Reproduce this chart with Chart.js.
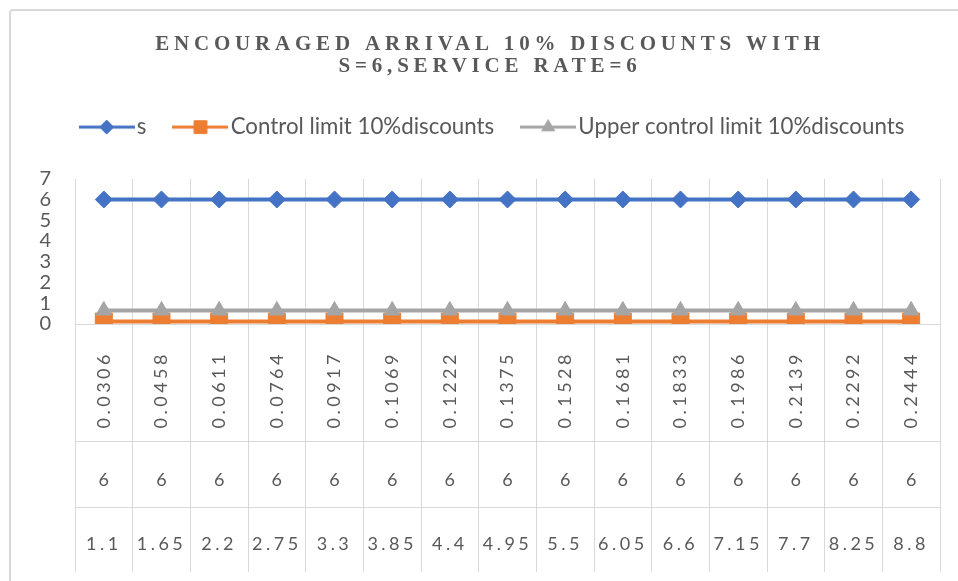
<!DOCTYPE html>
<html>
<head>
<meta charset="utf-8">
<script src="https://cdn.jsdelivr.net/npm/chart.js"></script>
<style>
	html, body { margin: 0; padding: 0; background: #fff; overflow: hidden; }
	#wrap { width: 980px; height: 581px; }
</style>
</head>
<body>
<div id="wrap"><canvas id="chart" width="980" height="581"></canvas></div>
<script>
// category levels, innermost first
const utilisation = ["0.0306", "0.0458", "0.0611", "0.0764", "0.0917", "0.1069", "0.1222", "0.1375", "0.1528", "0.1681", "0.1833", "0.1986", "0.2139", "0.2292", "0.2444"];
const servers = ["6", "6", "6", "6", "6", "6", "6", "6", "6", "6", "6", "6", "6", "6", "6"];
const arrivalRates = ["1.1", "1.65", "2.2", "2.75", "3.3", "3.85", "4.4", "4.95", "5.5", "6.05", "6.6", "7.15", "7.7", "8.25", "8.8"];

// series
const sValues = [6, 6, 6, 6, 6, 6, 6, 6, 6, 6, 6, 6, 6, 6, 6];
const controlLimit = [0.12, 0.12, 0.12, 0.12, 0.12, 0.12, 0.12, 0.12, 0.12, 0.12, 0.12, 0.12, 0.12, 0.12, 0.12];
const upperControlLimit = [0.65, 0.65, 0.65, 0.65, 0.65, 0.65, 0.65, 0.65, 0.65, 0.65, 0.65, 0.65, 0.65, 0.65, 0.65];

const seriesNames = ["s", "Control limit 10%discounts", "Upper control limit 10%discounts"];
const yMin = 0;
const yMax = 7;

const TEXT = "#595959";
const GRID = "#d9d9d9";

function legendIcon(color, style, radius) {
	const c = document.createElement("canvas");
	c.width = 56;
	c.height = 22;
	const ctx = c.getContext("2d");
	ctx.strokeStyle = color;
	ctx.fillStyle = color;
	ctx.lineWidth = 3;
	ctx.beginPath();
	ctx.moveTo(0, 11);
	ctx.lineTo(56, 11);
	ctx.stroke();
	ctx.lineWidth = 1;
	Chart.helpers.drawPoint(ctx, { pointStyle: style, radius: radius, borderWidth: 1 }, 28, 11);
	return c;
}

const icons = [
	legendIcon("#4472c4", "rectRot", 7),
	legendIcon("#ed7d31", "rect", 9),
	legendIcon("#a5a5a5", "triangle", 7.5)
];

// excel-ish chart frame + per-element letter spacing
const framePlugin = {
	id: "frame",
	afterLayout(chart) {
		// excel's legend row sits a little right of the title centre
		chart.legend.left += 6;
		chart.legend.right += 6;
	},
	beforeDraw(chart) {
		const ctx = chart.ctx;
		ctx.save();
		ctx.fillStyle = "#fff";
		ctx.fillRect(0, 0, chart.width, chart.height);
		ctx.strokeStyle = GRID;
		ctx.lineWidth = 2;
		ctx.beginPath();
		ctx.roundRect(10, 10, 1000, 620, 3);
		ctx.stroke();
		ctx.restore();

		const wrap = (obj, method, ls) => {
			if (!obj || obj["_ls_" + method]) return;
			const orig = obj[method];
			obj[method] = function (...args) {
				const c = this.ctx;
				c.save();
				c.letterSpacing = ls;
				orig.apply(this, args);
				c.restore();
			};
			obj["_ls_" + method] = true;
		};
		wrap(chart.titleBlock, "draw", "4.8px");
		wrap(chart.scales.x, "drawLabels", "3.5px");
		wrap(chart.scales.x3, "drawLabels", "3.5px");
	}
};

const tickFont = { family: "Lato", size: 18 };

new Chart(document.getElementById("chart"), {
	type: "line",
	data: {
		labels: utilisation,
		datasets: [{
			label: seriesNames[0],
			data: sValues,
			borderColor: "#4472c4",
			backgroundColor: "#4472c4",
			borderWidth: 4,
			pointStyle: "rectRot",
			pointRadius: 8.5,
			pointBorderWidth: 1,
			order: 2,
			xAxisID: "x",
			yAxisID: "y"
		}, {
			label: seriesNames[1],
			data: controlLimit,
			borderColor: "#ed7d31",
			backgroundColor: "#ed7d31",
			borderWidth: 4,
			pointStyle: "rect",
			pointRadius: 12,
			pointBorderWidth: 1,
			order: 1,
			xAxisID: "x",
			yAxisID: "y"
		}, {
			label: seriesNames[2],
			data: upperControlLimit,
			borderColor: "#a5a5a5",
			backgroundColor: "#a5a5a5",
			borderWidth: 4,
			pointStyle: "triangle",
			pointRadius: 9,
			pointBorderWidth: 1,
			order: 0,
			xAxisID: "x",
			yAxisID: "y"
		}]
	},
	options: {
		responsive: false,
		animation: false,
		events: [],
		layout: { padding: { top: 10, left: 0, right: 0, bottom: 9 } },
		plugins: {
			tooltip: { enabled: false },
			title: {
				display: true,
				text: ["ENCOURAGED ARRIVAL 10% DISCOUNTS WITH", "S=6,SERVICE RATE=6"],
				color: TEXT,
				font: { family: "Liberation Serif", size: 21, weight: "bold", lineHeight: 1.07 },
				padding: { top: 23, bottom: 3 }
			},
			legend: {
				display: true,
				labels: {
					color: TEXT,
					font: { family: "Lato", size: 22.3 },
					usePointStyle: true,
					pointStyleWidth: 38,
					padding: 35,
					generateLabels(chart) {
						const items = Chart.defaults.plugins.legend.labels.generateLabels(chart);
						items.forEach(it => { it.pointStyle = icons[it.datasetIndex]; });
						return items.sort((a, b) => a.datasetIndex - b.datasetIndex);
					}
				}
			}
		},
		scales: {
			x: {
				type: "category",
				position: "bottom",
				offset: true,
				weight: 0,
				grid: { offset: true, color: GRID, lineWidth: 1, drawTicks: true, tickLength: 117 },
				border: { display: true, color: GRID, width: 1 },
				ticks: { autoSkip: false, minRotation: 90, maxRotation: 90, padding: -90, color: TEXT, font: tickFont },
				afterFit(scale) { scale.height = 117; }
			},
			x2: {
				type: "category",
				position: "bottom",
				labels: servers,
				offset: true,
				weight: 1,
				grid: { offset: true, color: GRID, lineWidth: 1, drawOnChartArea: false, drawTicks: true, tickLength: 66 },
				border: { display: true, color: GRID, width: 1 },
				ticks: { autoSkip: false, maxRotation: 0, padding: -38, color: TEXT, font: tickFont },
				afterFit(scale) { scale.height = 66; }
			},
			x3: {
				type: "category",
				position: "bottom",
				labels: arrivalRates,
				offset: true,
				weight: 2,
				grid: { offset: true, color: GRID, lineWidth: 1, drawOnChartArea: false, drawTicks: true, tickLength: 65 },
				border: { display: true, color: GRID, width: 1 },
				ticks: { autoSkip: false, maxRotation: 0, padding: -39, color: TEXT, font: tickFont },
				afterFit(scale) { scale.height = 65; }
			},
			xTop: {
				type: "category",
				position: "top",
				labels: arrivalRates,
				grid: { display: false, drawTicks: false },
				border: { display: false },
				ticks: { display: false },
				afterFit(scale) { scale.height = 30.5; }
			},
			y: {
				type: "linear",
				position: "left",
				min: yMin,
				max: yMax,
				grid: { display: false, drawTicks: false },
				border: { display: false },
				ticks: { stepSize: 1, autoSkip: false, padding: 24, color: TEXT, font: { family: "Lato", size: 20, lineHeight: 1 } },
				afterFit(scale) { scale.width = 75; }
			},
			yRight: {
				type: "linear",
				position: "right",
				grid: { display: false, drawTicks: false },
				border: { display: false },
				ticks: { display: false },
				afterFit(scale) { scale.width = 40; }
			}
		}
	},
	plugins: [framePlugin]
});
</script>
</body>
</html>
